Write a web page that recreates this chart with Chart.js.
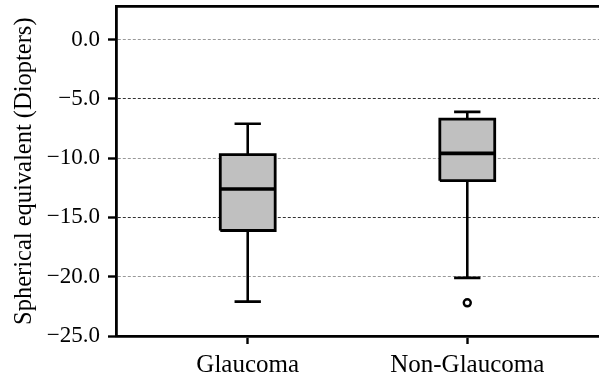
<!DOCTYPE html>
<html>
<head>
<meta charset="utf-8">
<script src="https://cdn.jsdelivr.net/npm/chart.js@4"></script>
<style>
    html, body { margin: 0; padding: 0; background: #fff; overflow: hidden; }
    #wrap { width: 599px; height: 379px; overflow: hidden; }
    #boxChart { display: block; }
</style>
</head>
<body>
<div id="wrap"><canvas id="boxChart" width="599" height="379"></canvas></div>
<script>
const categories = ['Glaucoma', 'Non-Glaucoma'];
const whiskerLow = [-22.1, -20.1];
const q1 = [-16.1, -11.9];
const median = [-12.6, -9.6];
const q3 = [-9.7, -6.7];
const whiskerHigh = [-7.1, -6.1];
const outliers = [[], [-22.2]];
const yTicks = [-25, -20, -15, -10, -5, 0];

const boxHalf = 0.125;
const capHalf = 0.06;
const serif = 'Liberation Serif';

const datasets = [];

categories.forEach((name, i) => {
    const x = i + 1;

    // whiskers and caps
    datasets.push({
        data: [
            { x: x, y: q3[i] }, { x: x, y: whiskerHigh[i] }, { x: x, y: null },
            { x: x - capHalf, y: whiskerHigh[i] }, { x: x + capHalf, y: whiskerHigh[i] }, { x: x, y: null },
            { x: x, y: q1[i] }, { x: x, y: whiskerLow[i] }, { x: x, y: null },
            { x: x - capHalf, y: whiskerLow[i] }, { x: x + capHalf, y: whiskerLow[i] }
        ],
        showLine: true,
        spanGaps: false,
        borderColor: '#000',
        borderWidth: 2.6,
        pointRadius: 0,
        order: 3
    });

    // box
    datasets.push({
        data: [
            { x: x - boxHalf, y: q1[i] }, { x: x + boxHalf, y: q1[i] },
            { x: x + boxHalf, y: q3[i] }, { x: x - boxHalf, y: q3[i] },
            { x: x - boxHalf, y: q1[i] }
        ],
        showLine: true,
        fill: 'shape',
        backgroundColor: '#c0c0c0',
        borderColor: '#000',
        borderWidth: 2.8,
        borderJoinStyle: 'miter',
        pointRadius: 0,
        order: 2
    });

    // median
    datasets.push({
        data: [{ x: x - boxHalf, y: median[i] }, { x: x + boxHalf, y: median[i] }],
        showLine: true,
        borderColor: '#000',
        borderWidth: 3.6,
        pointRadius: 0,
        order: 1
    });

    // outliers
    if (outliers[i].length) {
        datasets.push({
            data: outliers[i].map(v => ({ x: x, y: v })),
            showLine: false,
            pointRadius: 3.5,
            pointBackgroundColor: '#fff',
            pointBorderColor: '#000',
            pointBorderWidth: 2.4,
            order: 0
        });
    }
});

// drop the label overhang padding so the plot area sits where the axes say
function noPadding(scale) {
    scale.paddingTop = 0;
    scale.paddingBottom = 0;
    scale.paddingLeft = 0;
    scale.paddingRight = 0;
}

// the plot runs right up to the canvas edge (no right frame)
const fullWidth = {
    id: 'fullWidth',
    afterLayout(chart) {
        const area = chart.chartArea;
        area.right = chart.width;
        area.width = area.right - area.left;
        ['x', 'x2'].forEach(id => {
            const s = chart.scales[id];
            s.right = chart.width;
            s.width = s.right - s.left;
            s.configure();
        });
    }
};

const ctx = document.getElementById('boxChart').getContext('2d');
new Chart(ctx, {
    type: 'scatter',
    data: { datasets: datasets },
    plugins: [fullWidth],
    options: {
        responsive: false,
        animation: false,
        layout: { padding: 0 },
        plugins: { legend: { display: false }, tooltip: { enabled: false } },
        scales: {
            x: {
                type: 'linear',
                min: 0.4,
                max: 2.6,
                afterBuildTicks: scale => {
                    scale.ticks = categories.map((c, i) => ({ value: i + 1 }));
                },
                afterFit: scale => { scale.height = 43; noPadding(scale); },
                ticks: {
                    autoSkip: false,
                    maxRotation: 0,
                    padding: 6,
                    color: '#000',
                    font: { family: serif, size: 25 },
                    callback: v => categories[v - 1]
                },
                grid: {
                    drawOnChartArea: false,
                    drawTicks: true,
                    tickLength: 8,
                    tickColor: '#000',
                    tickWidth: 2.4
                },
                border: { display: true, color: '#000', width: 2.8 }
            },
            x2: {
                type: 'linear',
                position: 'top',
                min: 0.4,
                max: 2.6,
                afterFit: scale => { scale.height = 6; noPadding(scale); },
                ticks: { display: false },
                grid: { display: false },
                border: { display: true, color: '#000', width: 2.8 }
            },
            y: {
                type: 'linear',
                min: -25,
                max: 2.8,
                afterBuildTicks: scale => {
                    scale.ticks = yTicks.map(v => ({ value: v }));
                },
                afterFit: scale => { scale.width = 116; noPadding(scale); },
                title: {
                    display: true,
                    text: 'Spherical equivalent (Diopters)',
                    color: '#000',
                    font: { family: serif, size: 24.5 },
                    padding: { top: 10, bottom: 0 }
                },
                ticks: {
                    padding: 8,
                    color: '#000',
                    font: { family: serif, size: 23 },
                    callback: v => v.toFixed(1).replace('-', '\u2212')
                },
                grid: {
                    drawTicks: true,
                    tickLength: 8,
                    tickColor: '#000',
                    tickWidth: 2.4,
                    tickBorderDash: [],
                    lineWidth: 1,
                    color: c => (c.tick && Math.abs(c.tick.value) % 10 === 5) ? '#333' : '#999'
                },
                // in v4 border.dash dashes the grid lines; the axis line stays solid
                border: { display: true, color: '#000', width: 2.8, dash: [3, 2] }
            }
        }
    }
});
</script>
</body>
</html>
